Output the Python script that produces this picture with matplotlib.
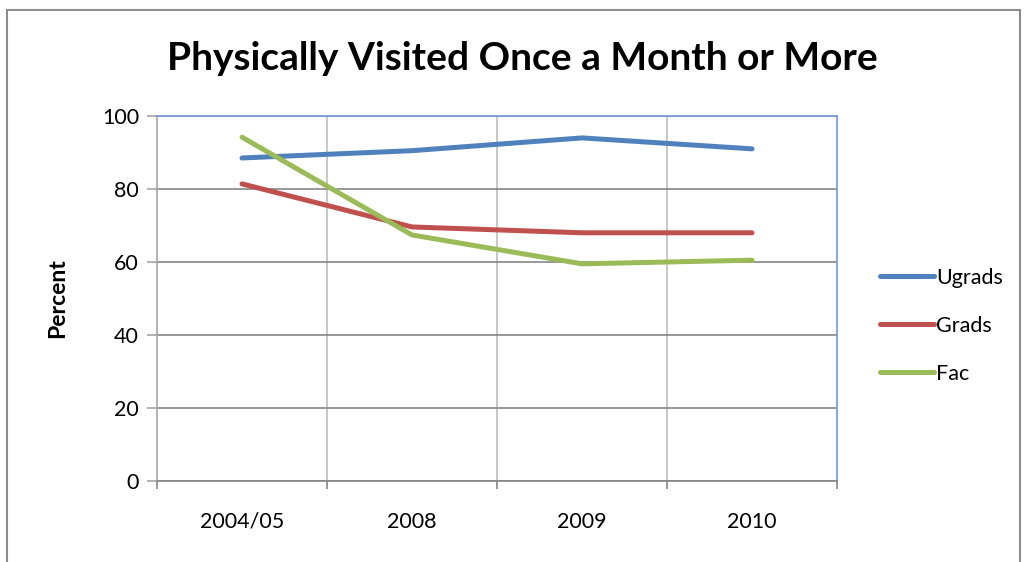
import matplotlib.pyplot as plt
from matplotlib.patches import Rectangle

categories = ["2004/05", "2008", "2009", "2010"]
ugrads = [88.5, 90.5, 94, 91]
grads = [81.4, 69.6, 68, 68]
fac = [94.2, 67.4, 59.5, 60.5]

plt.rcParams['font.family'] = ['Lato', 'DejaVu Sans']

fig = plt.figure(figsize=(10.28, 5.62), dpi=100)
W, H = 1028, 562
ax = fig.add_axes([157 / W, 1 - 481 / H, 680 / W, 365 / H])

# outer chart border
fig.patches.append(Rectangle((7 / W, -0.05), 1013 / W, 1 - 10 / H + 0.05,
                             transform=fig.transFigure, fill=False,
                             edgecolor="#8c8c8c", linewidth=1.5))

x = range(len(categories))
ax.plot(x, ugrads, color="#4F81BD", linewidth=3.6, label="Ugrads", solid_capstyle="round")
ax.plot(x, grads, color="#C0504D", linewidth=3.6, label="Grads", solid_capstyle="round")
ax.plot(x, fac, color="#9BBB59", linewidth=3.6, label="Fac", solid_capstyle="round")

ax.set_xlim(-0.5, 3.5)
ax.set_ylim(0, 100)
ax.set_yticks(range(0, 101, 20))
ax.set_xticks(x)
ax.set_xticklabels(categories)
ax.set_xticks([0.5, 1.5, 2.5, 3.5, -0.5], minor=True)

ax.grid(axis="y", color="#868686", linewidth=1.2)
for b in [0.5, 1.5, 2.5]:
    ax.axvline(b, color="#BFBFBF", linewidth=1.2, zorder=0)
ax.set_axisbelow(True)

ax.spines["top"].set_color("#6F9BD8")
ax.spines["right"].set_color("#6F9BD8")
ax.spines["left"].set_color("#A6A6A6")
ax.spines["bottom"].set_color("#868686")
for s in ax.spines.values():
    s.set_linewidth(1.2)

ax.tick_params(axis="x", which="major", length=0, labelsize=15.5, pad=22)
ax.tick_params(axis="x", which="minor", length=6, color="#868686", width=1.2)
ax.tick_params(axis="y", length=7, color="#A6A6A6", width=1.2, labelsize=15.5, pad=6)

ax.set_ylabel("Percent", fontsize=16.5, fontweight="bold", labelpad=24)
fig.text(522 / W, 1 - 58 / H, "Physically Visited Once a Month or More",
         ha="center", va="center", fontsize=28, fontweight="bold")

leg = ax.legend(loc="center left", bbox_to_anchor=(1.035, 0.425), frameon=False,
                fontsize=15.5, handlelength=2.5, handletextpad=0.1, labelspacing=1.3)

fig.savefig("out.png", dpi=100)
